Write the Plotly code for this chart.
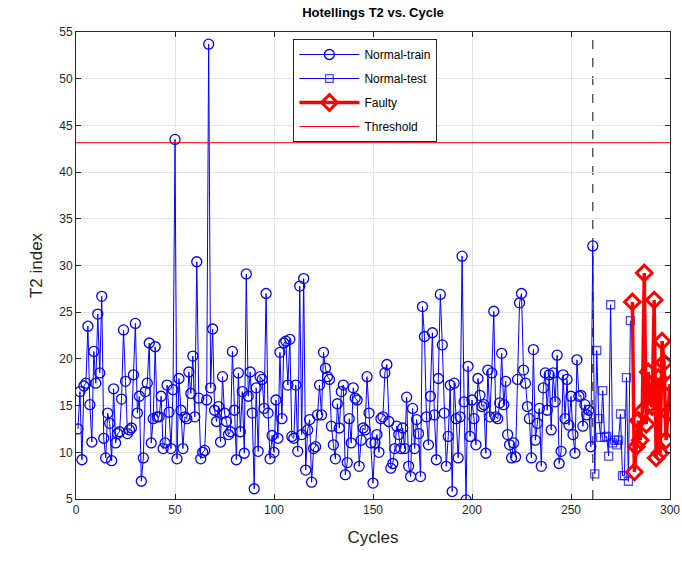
import plotly.graph_objects as go

# ---------------- data ----------------
train_t2 = [
    12.5, 16.5, 9.2, 17.1, 17.4, 23.5, 15.1, 11.1, 20.8, 17.4,
    24.8, 18.5, 26.7, 11.5, 9.4, 14.2, 13.1, 9.1, 16.8, 11.0,
    12.0, 12.2, 15.7, 23.1, 17.6, 12.0, 12.4, 12.6, 18.3, 23.8,
    14.2, 16.0, 6.9, 9.4, 16.5, 17.4, 21.7,
    11.0, 13.6, 21.3, 13.8, 13.8, 16.0, 10.4, 11.0, 17.2, 14.3,
    10.4, 16.7, 43.5, 9.3, 17.9, 14.5, 10.4, 13.8, 13.6, 18.6,
    16.3, 20.3, 13.8, 30.4, 15.8, 9.3, 10.0, 10.2, 15.6, 53.7,
    16.9, 23.2, 14.5, 13.3, 14.9, 11.1, 18.1, 14.2,
    13.3, 11.9, 12.2, 20.8, 14.5, 9.2, 18.5, 12.2, 16.5, 9.9,
    29.1, 16.0, 18.6, 14.2, 6.1, 16.9, 10.1, 18.1, 17.8, 14.7,
    27.0, 14.2, 9.3, 11.8, 10.0, 15.6, 11.5, 20.7, 13.6, 21.7,
    21.9, 17.2, 22.1, 11.7, 11.5, 17.2, 10.1,
    27.8, 11.9, 28.6, 8.1, 12.4, 13.5, 6.8, 10.4, 10.6, 14.0,
    17.2, 14.0, 20.7, 19.0, 18.1, 17.8, 12.8, 10.8, 9.3, 15.2,
    12.6, 16.5, 17.2, 7.6, 8.9, 13.6, 11.0, 16.9, 15.8, 15.6,
    8.5, 11.3, 12.6, 12.4, 18.1, 14.2, 11.0, 6.7,
    11.0, 11.9, 10.0, 13.6, 13.8, 18.5, 19.4, 13.3, 8.3, 8.8,
    10.4, 12.8, 11.9, 10.4, 12.6, 10.4, 15.9, 8.5, 7.4, 14.7,
    10.4, 13.5, 12.0, 7.4, 25.6,
    22.4, 13.8, 10.8, 16.0, 22.8, 14.0, 9.2, 17.9, 26.9, 21.5,
    14.2, 8.5, 11.7, 17.2, 5.8, 17.4, 13.6, 9.4, 13.8, 31.0,
    15.4, 4.9, 19.2, 11.7, 15.6, 13.6, 10.8, 17.9, 16.1, 14.9,
    15.1, 9.9, 18.8, 13.8, 18.5, 25.1, 13.8, 13.6, 15.3, 20.6,
    15.1, 17.6, 11.9, 10.8, 9.4, 11.0, 9.5, 17.8, 26.0, 27.0,
    18.8, 17.4, 14.9, 13.6, 9.4, 21.0, 11.3, 13.1, 14.7, 8.5,
    16.9, 18.5, 14.5, 18.3, 12.4, 18.5, 15.4, 20.4, 8.8, 10.1,
    18.3, 13.6, 17.8, 12.9, 16.0, 11.9, 9.9, 19.9, 16.0, 16.1,
    12.8, 15.1, 14.0, 14.5, 10.6, 32.1,
]
test_t2 = [7.7, 20.9, 13.6, 11.6, 16.6, 11.6, 11.7, 9.6, 25.8, 11.0,
           11.3, 10.8, 11.3, 14.1, 7.5, 7.5, 18.0, 6.9, 24.1]
faulty_t2 = [26.1, 7.9, 10.6, 13.4, 11.3, 14.4, 29.2, 13.0, 18.6, 15.2,
             14.9, 26.3, 9.4, 18.0, 9.9, 21.9, 19.6, 11.3, 14.2, 17.3]
threshold = 43.15
x_range = [0, 300]
y_range = [5, 55]
x_ticks = [0, 50, 100, 150, 200, 250, 300]
y_ticks = [5, 10, 15, 20, 25, 30, 35, 40, 45, 50, 55]

n_train = len(train_t2)
train_x = list(range(1, n_train + 1))
test_x = list(range(n_train + 1, n_train + 1 + len(test_t2)))
faulty_start = test_x[-1] + 2
faulty_x = list(range(faulty_start - 1, faulty_start - 1 + len(faulty_t2)))
boundary_cycle = n_train

BLUE = "#0000ff"
RED = "#ff0000"
FONT = "Liberation Sans, Arial, sans-serif"

fig = go.Figure()

fig.add_trace(go.Scatter(
    x=train_x, y=train_t2, mode="lines+markers", name="Normal-train", legendgroup="a",
    line=dict(color=BLUE, width=1),
    marker=dict(symbol="circle-open", size=10, color=BLUE, line=dict(width=1.3, color=BLUE)),
))
# test line connects from last training point (no marker there)
fig.add_trace(go.Scatter(
    x=[train_x[-1]] + test_x, y=[train_t2[-1]] + test_t2, mode="lines+markers",
    name="Normal-test", legendgroup="b",
    line=dict(color=BLUE, width=1),
    marker=dict(symbol="square-open", size=[0] + [8] * len(test_t2), color=BLUE,
                line=dict(width=1.3, color=BLUE)),
))
fig.add_trace(go.Scatter(
    x=faulty_x, y=faulty_t2, mode="lines+markers", name="Faulty", legendgroup="c",
    line=dict(color=RED, width=3.5),
    marker=dict(symbol="diamond-open", size=12, color=RED, line=dict(width=3, color=RED)),
))
fig.add_trace(go.Scatter(
    x=x_range, y=[threshold, threshold], mode="lines", name="Threshold", legendgroup="d",
    line=dict(color=RED, width=1),
))

fig.add_shape(type="line", xref="x", yref="y",
              x0=boundary_cycle, x1=boundary_cycle, y0=y_range[0], y1=y_range[1],
              line=dict(color="#333333", width=1.2, dash="dash"), layer="below")

axis_common = dict(
    showgrid=True, gridcolor="#e3e3e3", gridwidth=1,
    showline=True, linecolor="#262626", linewidth=1, mirror="ticks",
    ticks="inside", ticklen=5, tickcolor="#262626",
    tickfont=dict(family=FONT, size=12, color="#262626"),
    zeroline=False, automargin=False,
)

fig.update_layout(
    width=682, height=561,
    margin=dict(l=76, r=12, t=32, b=62, autoexpand=False),
    paper_bgcolor="white", plot_bgcolor="white",
    title=dict(text="<b>Hotellings T2 vs. Cycle</b>", xref="paper", x=0.5, xanchor="center",
               y=0.977, yanchor="middle",
               font=dict(family=FONT, size=13, color="black")),
    xaxis=dict(range=x_range, tickvals=x_ticks,
               title=dict(text="Cycles", standoff=14,
                          font=dict(family=FONT, size=17, color="#262626")),
               **axis_common),
    yaxis=dict(range=y_range, tickvals=y_ticks,
               title=dict(text="T2 index", standoff=12,
                          font=dict(family=FONT, size=17, color="#262626")),
               **axis_common),
    legend=dict(x=0.366, y=0.985, xanchor="left", yanchor="top",
                bgcolor="white", bordercolor="#262626", borderwidth=1,
                font=dict(family=FONT, size=12, color="black"),
                itemwidth=60, tracegroupgap=5, entrywidth=130, entrywidthmode="pixels"),
    showlegend=True,
)

fig.write_html("out.html")
